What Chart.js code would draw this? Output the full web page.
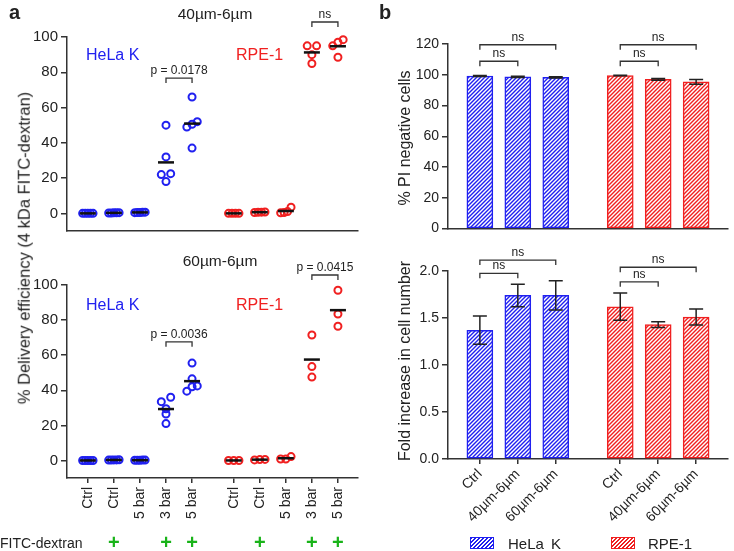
<!DOCTYPE html>
<html>
<head>
<meta charset="utf-8">
<script src="https://cdn.jsdelivr.net/npm/chart.js@4.4.1/dist/chart.umd.min.js"></script>
<style>
  body { margin: 0; background: #fff; font-family: "Liberation Sans", Arial, sans-serif; color: #222; }
  #fig { position: relative; width: 734px; height: 551px; overflow: hidden; }
  canvas { position: absolute; }
  .t { position: absolute; white-space: nowrap; line-height: 1; }
  .c { transform: translate(-50%, -50%); }
  .rot { transform: translate(-50%, -50%) rotate(-90deg); }
  .sw { position: absolute; width: 22px; height: 10px; }
</style>
</head>
<body>
<div id="fig">
  <canvas id="aTop" width="370" height="250" style="left:0;top:0"></canvas>
  <canvas id="aBottom" width="370" height="301" style="left:0;top:250px"></canvas>
  <canvas id="bTop" width="364" height="240" style="left:370px;top:0"></canvas>
  <canvas id="bBottom" width="364" height="311" style="left:370px;top:240px"></canvas>

  <div class="t" style="left:9px;top:2px;font-size:20px;font-weight:bold">a</div>
  <div class="t" style="left:379px;top:2px;font-size:20px;font-weight:bold">b</div>

  <div class="t c" style="left:215px;top:14px;font-size:15.5px">40µm-6µm</div>
  <div class="t c" style="left:220px;top:261px;font-size:15.5px">60µm-6µm</div>
  <div class="t" style="left:86px;top:47px;font-size:16px;color:#2020f0">HeLa K</div>
  <div class="t" style="left:236px;top:47px;font-size:16px;color:#f02020">RPE-1</div>
  <div class="t" style="left:86px;top:297px;font-size:16px;color:#2020f0">HeLa K</div>
  <div class="t" style="left:236px;top:297px;font-size:16px;color:#f02020">RPE-1</div>

  <div class="t rot" style="left:24px;top:248px;font-size:16.5px">% Delivery efficiency (4 kDa FITC-dextran)</div>
  <div class="t rot" style="left:405px;top:138px;font-size:16px">% PI negative cells</div>
  <div class="t rot" style="left:405px;top:361px;font-size:16px">Fold increase in cell number</div>

  <div class="t" style="left:0;top:536px;font-size:14px">FITC-dextran</div>

  <div class="sw" id="swHela" style="left:470px;top:537px"></div>
  <div class="t" style="left:508px;top:536px;font-size:15px;word-spacing:3px">HeLa K</div>
  <div class="sw" id="swRpe" style="left:611px;top:537px"></div>
  <div class="t" style="left:648px;top:536px;font-size:15px">RPE-1</div>
</div>

<script>
// panel a: delivery efficiency, one array of replicates per column
const aCategories = ['Ctrl', 'Ctrl', '5 bar', '3 bar', '5 bar', 'Ctrl', 'Ctrl', '5 bar', '3 bar', '5 bar'];
const fitcDextran = [0, 1, 0, 1, 1, 0, 1, 0, 1, 1];
const aTicks = [0, 20, 40, 60, 80, 100];

const helaTop = [[0, 0, 0, 0, 0], [0.3, 0.2, 0.4, 0.3, 0.2], [0.5, 0.6, 0.4, 0.5, 0.7], [50, 32, 22.5, 22, 18], [66, 52, 50.5, 49, 37]];
const rpeTop = [[0, 0, 0, 0], [0.5, 0.8, 0.6, 0.7], [0.5, 0.3, 1, 3.5], [95, 95, 90, 85], [97, 98.5, 95, 88.5]];
const helaBottom = [[0, 0, 0, 0, 0], [0.2, 0.3, 0.2, 0.4, 0.3], [0.1, 0.2, 0.1, 0.2, 0.1], [33.5, 36, 29.5, 26.5, 21], [55.5, 46.5, 42.5, 42, 39.5]];
const rpeBottom = [[0, 0, 0], [0.5, 0.3, 0.6], [2.2, 0.8, 0.8], [71.5, 53.5, 47.5], [97, 83.5, 76.5]];

// panel b: viability and proliferation
const bCategories = ['Ctrl', '40µm-6µm', '60µm-6µm', 'Ctrl', '40µm-6µm', '60µm-6µm'];
const piTicks = [0, 20, 40, 60, 80, 100, 120];
const helaPI = [99.2, 98.6, 98.3];
const helaPIErr = [0.4, 0.4, 0.4];
const rpePI = [99.5, 97.0, 95.4];
const rpePIErr = [0.2, 0.5, 1.6];
const foldTicks = [0, 0.5, 1.0, 1.5, 2.0];
const helaFold = [1.37, 1.74, 1.74];
const helaFoldErr = [0.15, 0.12, 0.155];
const rpeFold = [1.62, 1.43, 1.51];
const rpeFoldErr = [0.145, 0.03, 0.085];

const BLUE = '#2020f0';
const RED = '#f02020';
const INK = '#333';

Chart.defaults.font.family = '"Liberation Sans", Arial, sans-serif';
Chart.defaults.color = '#222';
Chart.defaults.animation = false;
Chart.defaults.events = [];
Chart.defaults.plugins.legend.display = false;
Chart.defaults.plugins.tooltip.enabled = false;

// gap between the two cell lines
function posA(i) { return i < 5 ? i : i + 0.6; }
function posB(i) { return i < 3 ? i : i + 0.7; }

// spread points with close values sideways, like a column scatter
function spread(vals, thr) {
    const idx = vals.map((v, i) => i).sort((a, b) => vals[a] - vals[b]);
    const offs = vals.map(() => 0);
    const rows = [];
    let cur = [idx[0]];
    for (let k = 1; k < idx.length; k++) {
        if (vals[idx[k]] - vals[cur[cur.length - 1]] < thr) cur.push(idx[k]);
        else { rows.push(cur); cur = [idx[k]]; }
    }
    rows.push(cur);
    rows.forEach(r => {
        const n = r.length;
        if (n < 2) return;
        const step = Math.min(0.36, 0.4 / (n - 1));
        r.forEach((i, j) => { offs[i] = (j - (n - 1) / 2) * step; });
    });
    return offs;
}

function scatterSets(cols, first, color) {
    const pts = [], means = [];
    cols.forEach((vals, c) => {
        const x0 = posA(c + first);
        const offs = spread(vals, 3);
        vals.forEach((v, k) => pts.push({ x: x0 + offs[k], y: v }));
        means.push({ x: x0, y: vals.reduce((a, b) => a + b, 0) / vals.length });
    });
    return [
        { data: means, order: 0, clip: false, pointStyle: 'line', pointRadius: 8, pointBorderWidth: 2.5, pointBorderColor: '#111' },
        { data: pts, order: 1, clip: false, pointStyle: 'circle', pointRadius: 3.5, pointBorderWidth: 2, pointBorderColor: color, pointBackgroundColor: 'rgba(0,0,0,0)' }
    ];
}

function hatch(color) {
    const s = 4;
    const c = document.createElement('canvas');
    c.width = s; c.height = s;
    const g = c.getContext('2d');
    g.fillStyle = '#fff';
    g.fillRect(0, 0, s, s);
    g.strokeStyle = color;
    g.lineWidth = 1.4;
    g.beginPath();
    g.moveTo(0, s); g.lineTo(s, 0);
    g.moveTo(-1, 1); g.lineTo(1, -1);
    g.moveTo(s - 1, s + 1); g.lineTo(s + 1, s - 1);
    g.stroke();
    return g.createPattern(c, 'repeat');
}

const bracketPlugin = {
    id: 'brackets',
    afterDatasetsDraw(chart, args, opts) {
        const ctx = chart.ctx, xs = chart.scales.x, ys = chart.scales.y;
        ctx.save();
        ctx.strokeStyle = INK;
        ctx.lineWidth = 1.3;
        ctx.fillStyle = '#222';
        ctx.font = '12px "Liberation Sans", Arial, sans-serif';
        ctx.textAlign = 'center';
        (opts.items || []).forEach(b => {
            const x1 = xs.getPixelForValue(b.from), x2 = xs.getPixelForValue(b.to);
            const y = ys.getPixelForValue(b.level);
            ctx.beginPath();
            ctx.moveTo(x1, y + 5); ctx.lineTo(x1, y); ctx.lineTo(x2, y); ctx.lineTo(x2, y + 5);
            ctx.stroke();
            ctx.fillText(b.label, (x1 + x2) / 2, y - 4);
        });
        ctx.restore();
    }
};

const fitcPlugin = {
    id: 'fitc',
    afterDraw(chart, args, opts) {
        if (!opts.show) return;
        const ctx = chart.ctx, xs = chart.scales.x;
        ctx.save();
        ctx.fillStyle = '#19b319';
        ctx.font = 'bold 20px "Liberation Sans", Arial, sans-serif';
        ctx.textAlign = 'center';
        ctx.textBaseline = 'middle';
        fitcDextran.forEach((f, i) => {
            if (f) ctx.fillText('+', xs.getPixelForValue(posA(i)), 293);
        });
        ctx.restore();
    }
};

const errorBarPlugin = {
    id: 'errorBars',
    afterDatasetsDraw(chart) {
        const ctx = chart.ctx, ys = chart.scales.y;
        ctx.save();
        ctx.strokeStyle = '#222';
        ctx.lineWidth = 1.5;
        chart.data.datasets.forEach((ds, di) => {
            if (!ds.errors) return;
            chart.getDatasetMeta(di).data.forEach((el, j) => {
                const v = ds.data[j].y, e = ds.errors[j];
                const yt = ys.getPixelForValue(v + e), yb = ys.getPixelForValue(v - e);
                ctx.beginPath();
                ctx.moveTo(el.x, yt); ctx.lineTo(el.x, yb);
                ctx.moveTo(el.x - 7, yt); ctx.lineTo(el.x + 7, yt);
                ctx.moveTo(el.x - 7, yb); ctx.lineTo(el.x + 7, yb);
                ctx.stroke();
            });
        });
        ctx.restore();
    }
};

function panelA(id, hela, rpe, brackets, bottom) {
    new Chart(document.getElementById(id), {
        type: 'scatter',
        data: { datasets: [...scatterSets(hela, 0, BLUE), ...scatterSets(rpe, 5, RED)] },
        options: {
            responsive: false,
            layout: { padding: bottom ? { top: 35, right: 12, bottom: 0, left: 0 } : { top: 37, right: 12, bottom: 19, left: 0 } },
            scales: {
                x: {
                    type: 'linear', min: -0.8, max: 10.37,
                    afterBuildTicks: ax => { ax.ticks = aCategories.map((c, i) => ({ value: posA(i) })); },
                    afterFit: ax => { ax.height = bottom ? 73 : 0; },
                    border: { display: true, color: INK, width: 1.5 },
                    grid: { display: bottom, drawOnChartArea: false, tickLength: 5, color: INK, lineWidth: 1.5 },
                    ticks: { display: bottom, autoSkip: false, minRotation: 90, maxRotation: 90, padding: 4, font: { size: 14 }, callback: (v, i) => aCategories[i] }
                },
                y: {
                    min: -10, max: 100,
                    afterBuildTicks: ax => { ax.ticks = aTicks.map(v => ({ value: v })); },
                    afterFit: ax => { ax.width = 67; },
                    border: { display: true, color: INK, width: 1.5 },
                    grid: { drawOnChartArea: false, tickLength: 6, color: INK, lineWidth: 1.5 },
                    ticks: { padding: 3, font: { size: 15 } }
                }
            },
            plugins: { brackets: { items: brackets }, fitc: { show: bottom } }
        },
        plugins: [bracketPlugin, fitcPlugin]
    });
}

function barSet(vals, errs, first, color) {
    return {
        data: vals.map((v, i) => ({ x: posB(i + first), y: v })),
        errors: errs,
        backgroundColor: hatch(color),
        borderColor: color,
        borderWidth: 1.5,
        borderSkipped: false,
        barThickness: 26,
        grouped: false
    };
}

function panelB(id, hela, helaErr, rpe, rpeErr, ticks, max, brackets, bottom) {
    new Chart(document.getElementById(id), {
        type: 'bar',
        data: { datasets: [barSet(hela, helaErr, 0, BLUE), barSet(rpe, rpeErr, 3, RED)] },
        options: {
            responsive: false,
            layout: { padding: bottom ? { top: 31, right: 6, bottom: 0, left: 0 } : { top: 44, right: 6, bottom: 10, left: 0 } },
            scales: {
                x: {
                    type: 'linear', min: -0.84, max: 6.54, offset: false,
                    afterBuildTicks: ax => { ax.ticks = bCategories.map((c, i) => ({ value: posB(i) })); },
                    afterFit: ax => { ax.height = bottom ? 92 : 0; },
                    border: { display: true, color: INK, width: 1.5 },
                    grid: { display: bottom, offset: false, drawOnChartArea: false, tickLength: 5, color: INK, lineWidth: 1.5 },
                    ticks: { display: bottom, autoSkip: false, minRotation: 45, maxRotation: 45, padding: 2, font: { size: 14 }, callback: (v, i) => bCategories[i] }
                },
                y: {
                    min: 0, max: max,
                    afterBuildTicks: ax => { ax.ticks = ticks.map(v => ({ value: v })); },
                    afterFit: ax => { ax.width = 78; },
                    border: { display: true, color: INK, width: 1.5 },
                    grid: { drawOnChartArea: false, tickLength: 6, color: INK, lineWidth: 1.5 },
                    ticks: { padding: 3, font: { size: 14 }, callback: v => bottom ? v.toFixed(1) : v }
                }
            },
            plugins: { brackets: { items: brackets } }
        },
        plugins: [errorBarPlugin, bracketPlugin]
    });
}

panelA('aTop', helaTop, rpeTop, [
    { from: posA(3), to: posA(4), level: 76.7, label: 'p = 0.0178' },
    { from: posA(8), to: posA(9), level: 108.5, label: 'ns' }
], false);

panelA('aBottom', helaBottom, rpeBottom, [
    { from: posA(3), to: posA(4), level: 67.6, label: 'p = 0.0036' },
    { from: posA(8), to: posA(9), level: 105.7, label: 'p = 0.0415' }
], true);

panelB('bTop', helaPI, helaPIErr, rpePI, rpePIErr, piTicks, 120, [
    { from: posB(0), to: posB(1), level: 108.8, label: 'ns' },
    { from: posB(0), to: posB(2), level: 119.5, label: 'ns' },
    { from: posB(3), to: posB(4), level: 108.8, label: 'ns' },
    { from: posB(3), to: posB(5), level: 119.5, label: 'ns' }
], false);

panelB('bBottom', helaFold, helaFoldErr, rpeFold, rpeFoldErr, foldTicks, 2.0, [
    { from: posB(0), to: posB(1), level: 1.975, label: 'ns' },
    { from: posB(0), to: posB(2), level: 2.116, label: 'ns' },
    { from: posB(3), to: posB(4), level: 1.885, label: 'ns' },
    { from: posB(3), to: posB(5), level: 2.04, label: 'ns' }
], true);

// legend swatches, same hatching as the bars
[['swHela', BLUE], ['swRpe', RED]].forEach(([id, col]) => {
    const el = document.getElementById(id);
    el.style.border = '1.5px solid ' + col;
    el.style.background = 'repeating-linear-gradient(135deg, ' + col + ' 0 1.2px, #fff 1.2px 2.8px)';
});
</script>
</body>
</html>
